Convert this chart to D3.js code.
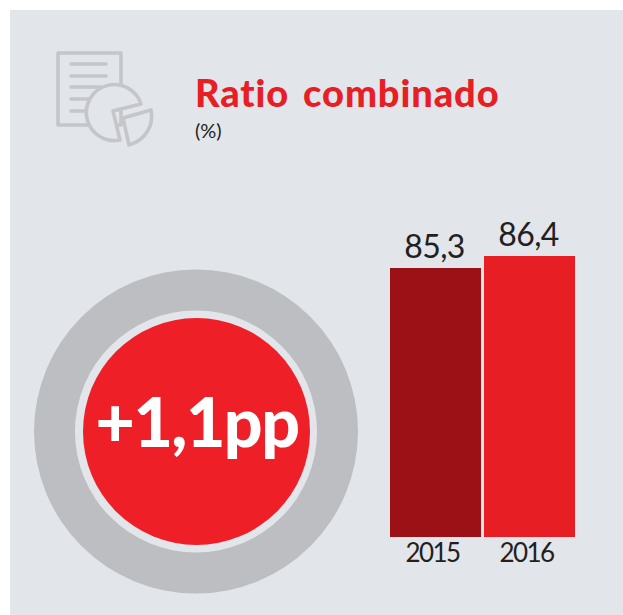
<!DOCTYPE html>
<html><head><meta charset="utf-8">
<script src="https://cdn.jsdelivr.net/npm/d3@7"></script>
<style>html,body{margin:0;padding:0;background:#fff}svg{display:block}text{font-family:Lato,"Open Sans",sans-serif;font-variant-ligatures:none}</style>
</head><body><svg id="c" width="623" height="615"></svg>
<script>
const years=["2015","2016"];
const values=[85.3,86.4];
const valueLabels=["85,3","86,4"];
const barColors=["#9c1116","#e81e25"];
const title="Ratio combinado";
const unit="(%)";
const badge="+1,1pp";

const svg=d3.select("#c");
const bg="#e2e5ea";
svg.append("rect").attr("x",10).attr("y",10).attr("width",613).attr("height",605).attr("fill",bg);

// icon
const ic=svg.append("g").attr("fill","none").attr("stroke","#c4c6c9").attr("stroke-width",3.6).attr("stroke-linejoin","round").attr("stroke-linecap","round");
ic.append("rect").attr("x",58).attr("y",53).attr("width",63).attr("height",72);
ic.append("path").attr("d","M71 64H106M71 76H106M71 87H100M71 99H100M71 111H100").attr("stroke-width",3.5);
ic.append("path").attr("fill",bg).attr("d","M141 104A28 28 0 1 0 120 140L113 111Z");
ic.append("path").attr("fill",bg).attr("d","M123 118L151 110C154 125 146 140 129 145Z");

svg.append("text").attr("x",195).attr("y",107).attr("font-size",38).attr("font-weight",900).attr("letter-spacing",0.9).attr("word-spacing",4).attr("fill","#e81e25").text(title);
svg.append("text").attr("x",195).attr("y",138).attr("font-size",20).attr("fill","#231f20").text(unit);

// donut
const cx=196,cy=431.5;
svg.append("path").attr("transform",`translate(${cx},${cy})`).attr("fill","#bcbec1")
 .attr("d",d3.arc()({innerRadius:121,outerRadius:162,startAngle:0,endAngle:2*Math.PI}));
svg.append("circle").attr("cx",cx+0.5).attr("cy",cy).attr("r",113.5).attr("fill","#ef1f28");
svg.append("text").attr("x",cx+1).attr("y",447).attr("text-anchor","middle").attr("font-size",68).attr("font-weight",900).attr("letter-spacing",-1.5).attr("fill","#fff").text(badge);

// bars
const x=d3.scaleBand().domain(years).range([390,575]).paddingInner(0.032).paddingOuter(0);
const y=d3.scaleLinear().domain([60.64,86.4]).range([537,256]);
svg.selectAll("rect.bar").data(years).join("rect").attr("class","bar")
 .attr("x",d=>x(d)).attr("width",x.bandwidth())
 .attr("y",(d,i)=>y(values[i])).attr("height",(d,i)=>537-y(values[i]))
 .attr("fill",(d,i)=>barColors[i]);
svg.selectAll("text.v").data(years).join("text").attr("class","v")
 .attr("x",d=>x(d)+x.bandwidth()/2-1).attr("y",(d,i)=>y(values[i])-10)
 .attr("text-anchor","middle").attr("font-size",32).attr("letter-spacing",-0.6).attr("fill","#231f20").text((d,i)=>valueLabels[i]);
svg.selectAll("text.t").data(years).join("text").attr("class","t")
 .attr("x",d=>x(d)+x.bandwidth()/2-3).attr("y",562)
 .attr("text-anchor","middle").attr("font-size",26).attr("letter-spacing",-1.6).attr("fill","#231f20").text(d=>d);
</script></body></html>
